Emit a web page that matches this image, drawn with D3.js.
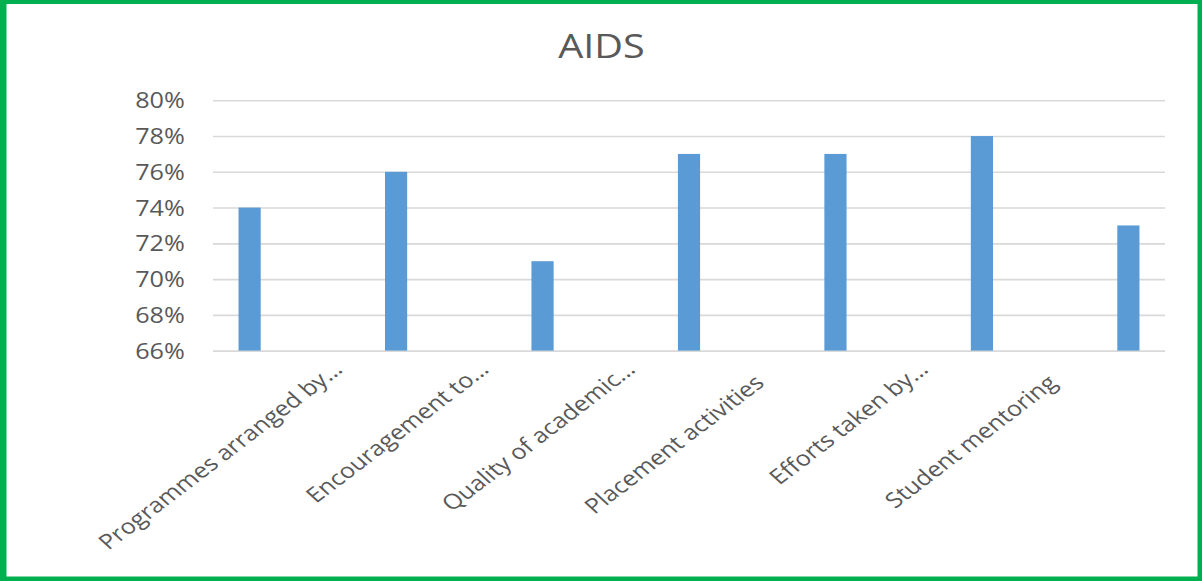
<!DOCTYPE html>
<html>
<head>
<meta charset="utf-8">
<script src="https://cdn.jsdelivr.net/npm/d3@7"></script>
<style>
  html, body { margin: 0; padding: 0; background: #fff; }
  svg { display: block; }
</style>
</head>
<body>
<svg id="chart" width="1202" height="581"></svg>
<script>
// ---- data ----
const title = "AIDS";
const categories = [
  "Programmes arranged by…",
  "Encouragement to…",
  "Quality of academic…",
  "Placement activities",
  "Efforts taken by…",
  "Student mentoring"
];
const values = [0.74, 0.76, 0.71, 0.77, 0.77, 0.78, 0.73];
const yTicks = [0.66, 0.68, 0.70, 0.72, 0.74, 0.76, 0.78, 0.80];
// The source axis has 13 category slots: bars sit in even slots,
// the labels in the odd slots between them.
const slotCount = 13;

// ---- layout ----
const W = 1202, H = 581;
const sx = 1.2;                 // the reference image is stretched horizontally
const LW = W / sx;              // logical width
const plot = { left: 213 / sx, right: 1165 / sx, top: 100.3, bottom: 350.6 };
const textColor = "#595959";
const font = "'Open Sans', 'Noto Sans', sans-serif";

const svg = d3.select("#chart");

// green frame
svg.append("rect").attr("x", 0).attr("y", 0).attr("width", W).attr("height", H).attr("fill", "#00b050");
svg.append("rect").attr("x", 6.5).attr("y", 4).attr("width", 1197.5 - 6.5).attr("height", 576.5 - 4).attr("fill", "#ffffff");

const g = svg.append("g").attr("transform", `scale(${sx},1)`);

const x = d3.scaleBand().domain(d3.range(slotCount)).range([plot.left, plot.right]).paddingInner(0).paddingOuter(0);
const y = d3.scaleLinear().domain([0.66, 0.80]).range([plot.bottom, plot.top]);

// title
g.append("text")
  .attr("x", 601.5 / sx).attr("y", 58.3)
  .attr("text-anchor", "middle")
  .attr("font-family", font).attr("font-size", 33)
  .attr("fill", textColor)
  .text(title);

// y axis with gridlines
const yAxis = d3.axisLeft(y)
  .tickValues(yTicks)
  .tickFormat(d3.format(".0%"))
  .tickSize(-(plot.right - plot.left))
  .tickPadding(23.5);

const ya = g.append("g").attr("transform", `translate(${plot.left},0)`).call(yAxis);
ya.select(".domain").remove();
ya.selectAll(".tick line").attr("stroke", "#d9d9d9").attr("stroke-width", 1.6);
ya.selectAll(".tick text")
  .attr("font-family", font).attr("font-size", 21)
  .attr("fill", textColor).attr("dy", "0.36em");

// bars
const barW = x.bandwidth() * 0.303;
g.append("g").selectAll("rect")
  .data(values)
  .join("rect")
  .attr("x", (d, i) => x(2 * i) + x.bandwidth() / 2 - barW / 2)
  .attr("y", d => y(d))
  .attr("width", barW)
  .attr("height", d => y(0.66) - y(d))
  .attr("fill", "#5b9bd5");

// category labels
const angle = -42.5;
g.append("g").selectAll("text")
  .data(categories)
  .join("text")
  .attr("transform", (d, i) => `translate(${x(2 * i + 1) + x.bandwidth() / 2 + 17.5},371) rotate(${angle})`)
  .attr("text-anchor", "end")
  .attr("dx", d => d.endsWith("…") ? 0 : -20)
  .attr("font-family", font).attr("font-size", 21)
  .attr("fill", textColor)
  .text(d => d);
</script>
</body>
</html>
